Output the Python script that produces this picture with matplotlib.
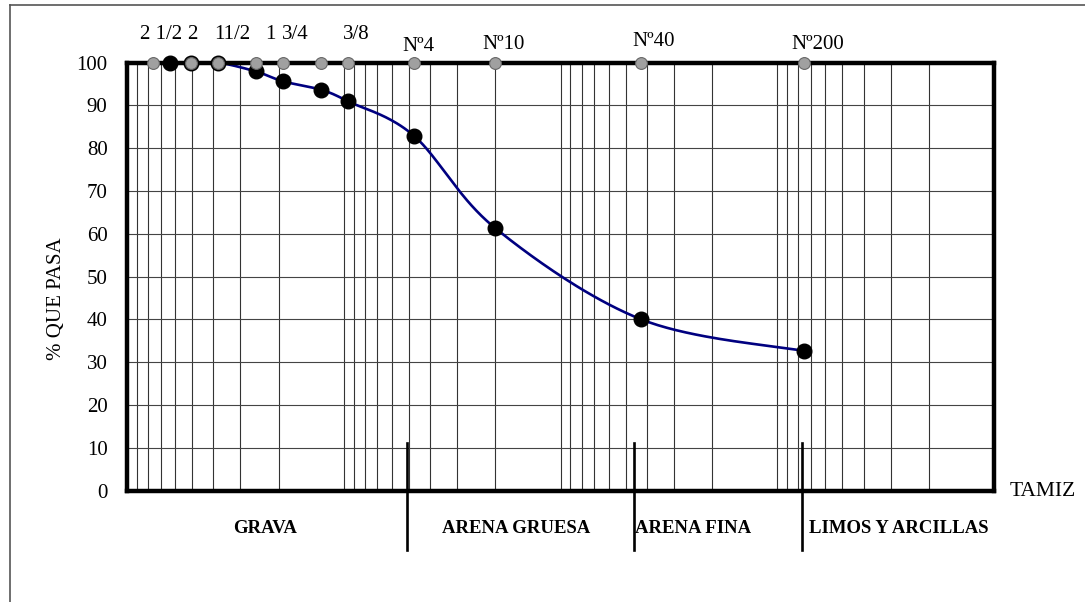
import numpy as np
import matplotlib.pyplot as plt
from matplotlib.lines import Line2D

plt.rcParams['font.family'] = ['Liberation Serif', 'DejaVu Serif']

# abertura de tamices (mm) y % que pasa
tamiz_mm = [63.5, 50.8, 38.1, 25.4, 19.05, 12.7, 9.525, 4.75, 2.0, 0.425, 0.075]
pasa = [100, 100, 100, 97.9, 95.6, 93.6, 90.9, 82.9, 61.3, 40.0, 32.6]

# tamices marcados en la parte superior (puntos grises)
ref_mm = [76.2, 50.8, 38.1, 25.4, 19.05, 12.7, 9.525, 4.75, 2.0, 0.425, 0.075]

etiquetas = ['2 1/2', '2', '11/2', '1', '3/4', '3/8', 'Nº4', 'Nº10', 'Nº40', 'Nº200']
etiq_mm = [63.5, 50.8, 38.1, 25.4, 19.05, 9.525, 4.75, 2.0, 0.425, 0.075]
etiq_dx = [-9, 2, 14, 14, 12, 8, 5, 8, 13, 13]      # desplazamiento en px
etiq_dy = [28, 28, 28, 28, 28, 28, 16, 18, 21, 18]

limites_mm = [5.1, 0.46, 0.077]
zonas = ['GRAVA', 'ARENA GRUESA', 'ARENA FINA', 'LIMOS Y ARCILLAS']
zonas_mm = [23.1, 1.6, 0.245, 0.0274]

W, H = 1085, 602
fig = plt.figure(figsize=(W / 100, H / 100), dpi=100)
ax = fig.add_axes([127 / W, 1 - 490.5 / H, 867 / W, 428 / H])

ax.set_xscale('log')
ax.set_xlim(100, 0.01)
ax.set_ylim(0, 100)
ax.set_yticks(range(0, 101, 10))
ax.tick_params(axis='y', length=0, pad=14, labelsize=15)
ax.tick_params(axis='x', which='both', length=0, labelbottom=False)
ax.xaxis.set_minor_formatter(plt.NullFormatter())
ax.grid(which='both', axis='x', color='#333333', lw=0.8)
ax.grid(which='major', axis='y', color='#444444', lw=0.8)
for s in ax.spines.values():
    s.set_linewidth(3.2)
    s.set_color('black')
    s.set_zorder(4)

# curva suavizada (bezier tipo excel) en espacio log
pts = np.column_stack([np.log10(tamiz_mm), pasa])
t = np.linspace(0, 1, 40)[:, None]
curva = []
for i in range(len(pts) - 1):
    p0 = pts[max(i - 1, 0)]
    p1 = pts[i]
    p2 = pts[i + 1]
    p3 = pts[min(i + 2, len(pts) - 1)]
    c1 = p1 + (p2 - p0) / 6
    c2 = p2 - (p3 - p1) / 6
    curva.append((1 - t)**3 * p1 + 3 * (1 - t)**2 * t * c1 + 3 * (1 - t) * t**2 * c2 + t**3 * p2)
curva = np.vstack(curva)
ax.plot(10**curva[:, 0], np.minimum(curva[:, 1], 100), color='#000080', lw=1.9, zorder=3, clip_on=False)

ax.plot(tamiz_mm, pasa, 'o', color='black', ms=10.5, zorder=5, clip_on=False)
ax.plot(ref_mm, [100] * len(ref_mm), 'o', mfc='#a0a0a0', mec='#666666', mew=0.8,
        ms=8.5, zorder=6, clip_on=False)

for lab, xm, dx, dy in zip(etiquetas, etiq_mm, etiq_dx, etiq_dy):
    ax.annotate(lab, (xm, 100), xytext=(dx, dy), textcoords='offset pixels',
                ha='center', va='center', fontsize=15)

for xm in limites_mm:
    ax.plot([xm, xm], [11.1, -13.9], color='black', lw=1.9, clip_on=False, zorder=5)

for z, xm in zip(zonas, zonas_mm):
    ax.text(xm, -8.8, z, ha='center', va='center', fontsize=13.5, fontweight='bold')

fig.text(1010 / W, 1 - 491 / H, 'TAMIZ', ha='left', va='center', fontsize=15.5)
fig.text(56 / W, 1 - 299 / H, '% QUE PASA', ha='center', va='center', rotation=90, fontsize=15)

# marco exterior
fig.add_artist(Line2D([9.5 / W, 9.5 / W], [0, 1 - 5 / H], transform=fig.transFigure, color='#555555', lw=1.2))
fig.add_artist(Line2D([9.5 / W, 1], [1 - 5 / H, 1 - 5 / H], transform=fig.transFigure, color='#555555', lw=1.2))

fig.savefig('out.png', dpi=100)
